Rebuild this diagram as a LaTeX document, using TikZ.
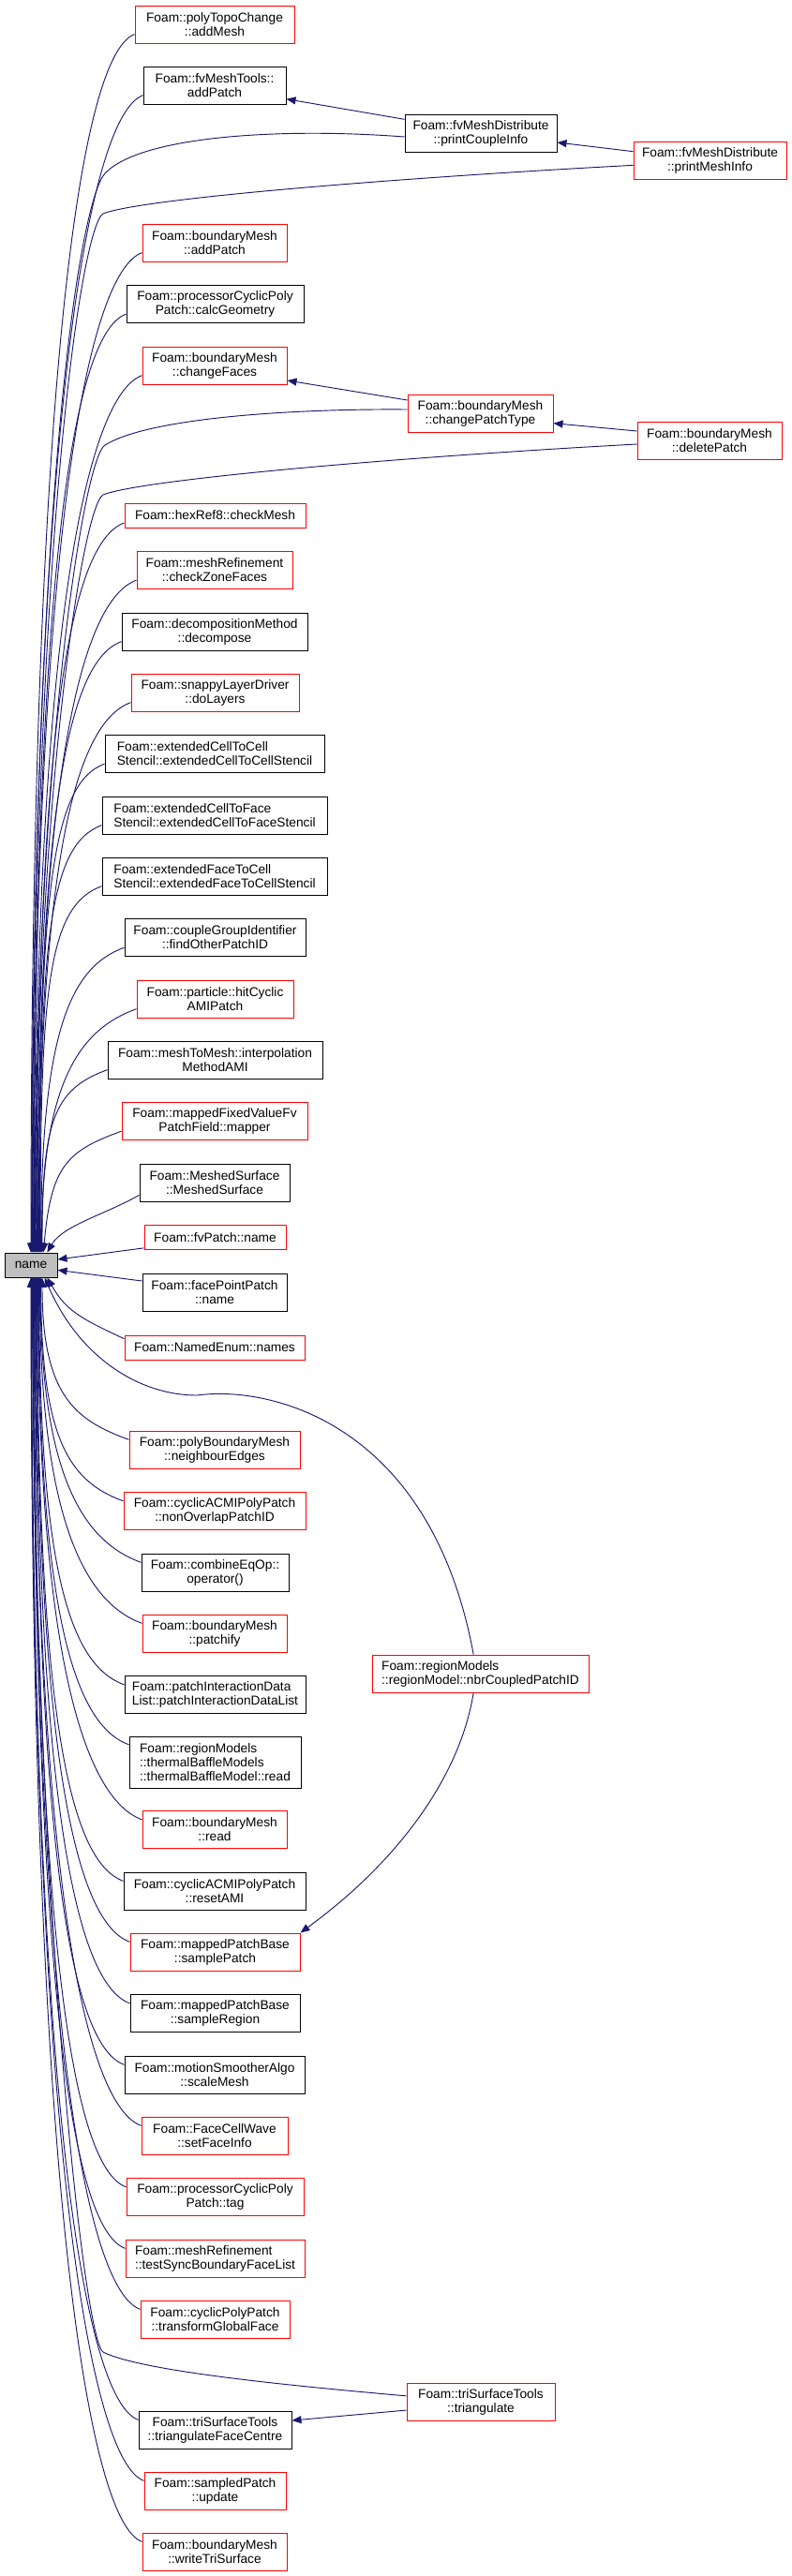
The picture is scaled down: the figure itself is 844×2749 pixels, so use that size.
\documentclass[tikz,border=0pt]{standalone}
\usepackage{fontspec}
\setmainfont{Liberation Sans}
\usetikzlibrary{arrows.meta}
\definecolor{edgeblue}{HTML}{191970}
\definecolor{namegray}{HTML}{BFBFBF}
\tikzset{
  fnbox/.style={draw=black, fill=white, line width=0.75pt, align=center, inner sep=0pt,
    minimum height=30pt, font=\fontsize{10.3}{11.25}\selectfont},
  fnred/.style={fnbox, draw=red},
  oneline/.style={minimum height=19.5pt},
  leftal/.style={align=left},
  callee/.style={fnbox, fill=namegray, oneline},
  call/.style={draw=edgeblue, line width=0.7pt, -{Triangle[length=7.5pt,width=6pt]}},
}

\begin{document}
\begin{tikzpicture}[x=0.75pt, y=0.75pt]
    \useasboundingbox (0,0) rectangle (844,-2749);

    % the called function
    \node[callee, minimum width=42pt] (name) at (33,-1350) {name};

    % callers above
    \node[fnred, minimum width=127.5pt] (pTCaddMesh) at (229,-26) {Foam::polyTopoChange\\::addMesh};
    \node[fnbox, minimum width=114pt] (fvMTaddPatch) at (229,-91) {Foam::fvMeshTools::\\addPatch};
    \node[fnbox, minimum width=121.5pt] (printCoupleInfo) at (513,-142) {Foam::fvMeshDistribute\\::printCoupleInfo};
    \node[fnred, minimum width=122.25pt] (printMeshInfo) at (757.5,-171) {Foam::fvMeshDistribute\\::printMeshInfo};
    \node[fnred, minimum width=115.5pt] (bMaddPatch) at (229,-259) {Foam::boundaryMesh\\::addPatch};
    \node[fnbox, minimum width=141.75pt] (calcGeometry) at (229.5,-324.5) {Foam::processorCyclicPoly\\Patch::calcGeometry};
    \node[fnred, minimum width=115.5pt] (changeFaces) at (229,-390) {Foam::boundaryMesh\\::changeFaces};
    \node[fnred, minimum width=116.25pt] (changePatchType) at (512.5,-441) {Foam::boundaryMesh\\::changePatchType};
    \node[fnred, minimum width=115.5pt] (deletePatch) at (757,-470) {Foam::boundaryMesh\\::deletePatch};
    \node[fnred, oneline, minimum width=144.75pt] (checkMesh) at (229.5,-550) {Foam::hexRef8::checkMesh};
    \node[fnred, minimum width=124.5pt] (checkZoneFaces) at (229,-608.5) {Foam::meshRefinement\\::checkZoneFaces};
    \node[fnbox, minimum width=148.5pt] (decompose) at (229,-674) {Foam::decompositionMethod\\::decompose};
    \node[fnred, minimum width=134.25pt] (doLayers) at (229.5,-739) {Foam::snappyLayerDriver\\::doLayers};
    \node[fnbox, leftal, minimum width=175.5pt] (cellToCell) at (229,-804.5) {Foam::extendedCellToCell\\Stencil::extendedCellToCellStencil};
    \node[fnbox, leftal, minimum width=180pt] (cellToFace) at (229,-870) {Foam::extendedCellToFace\\Stencil::extendedCellToFaceStencil};
    \node[fnbox, leftal, minimum width=180pt] (faceToCell) at (229,-935) {Foam::extendedFaceToCell\\Stencil::extendedFaceToCellStencil};
    \node[fnbox, minimum width=144.75pt] (findOtherPatchID) at (229.5,-1000.5) {Foam::coupleGroupIdentifier\\::findOtherPatchID};
    \node[fnred, minimum width=125.25pt] (hitCyclicAMIPatch) at (229.5,-1066) {Foam::particle::hitCyclic\\AMIPatch};
    \node[fnbox, minimum width=171.75pt] (interpolationAMI) at (229.5,-1131) {Foam::meshToMesh::interpolation\\MethodAMI};
    \node[fnred, minimum width=148.5pt] (mapper) at (229,-1196.5) {Foam::mappedFixedValueFv\\PatchField::mapper};
    \node[fnbox, minimum width=120pt] (meshedSurface) at (229,-1262) {Foam::MeshedSurface\\::MeshedSurface};
    \node[fnred, oneline, minimum width=113.25pt] (fvPatchName) at (229.5,-1320.5) {Foam::fvPatch::name};

    % callers below
    \node[fnbox, minimum width=115.5pt] (facePointPatchName) at (229,-1379) {Foam::facePointPatch\\::name};
    \node[fnred, oneline, minimum width=144pt] (namedEnumNames) at (229,-1438) {Foam::NamedEnum::names};
    \node[fnred, minimum width=136.5pt] (neighbourEdges) at (229,-1547) {Foam::polyBoundaryMesh\\::neighbourEdges};
    \node[fnred, minimum width=145.5pt] (nonOverlapPatchID) at (229,-1612.5) {Foam::cyclicACMIPolyPatch\\::nonOverlapPatchID};
    \node[fnbox, minimum width=117.75pt] (combineOperator) at (229.5,-1678) {Foam::combineEqOp::\\operator()};
    \node[fnred, minimum width=115.5pt] (patchify) at (229,-1743) {Foam::boundaryMesh\\::patchify};
    \node[fnred, leftal, minimum width=173.25pt] (nbrCoupledPatchID) at (512.5,-1786) {Foam::regionModels\\::regionModel::nbrCoupledPatchID};
    \node[fnbox, leftal, minimum width=144.75pt] (patchInteractionList) at (229.5,-1808.5) {Foam::patchInteractionData\\List::patchInteractionDataList};
    \node[fnbox, leftal, minimum width=137.25pt, minimum height=41.25pt] (thermalBaffleRead) at (229.5,-1880.5) {Foam::regionModels\\::thermalBaffleModels\\::thermalBaffleModel::read};
    \node[fnred, minimum width=115.5pt] (bMread) at (229,-1952.5) {Foam::boundaryMesh\\::read};
    \node[fnbox, minimum width=145.5pt] (resetAMI) at (229,-2018) {Foam::cyclicACMIPolyPatch\\::resetAMI};
    \node[fnred, minimum width=135.75pt] (samplePatch) at (229.5,-2083) {Foam::mappedPatchBase\\::samplePatch};
    \node[fnbox, minimum width=135.75pt] (sampleRegion) at (229.5,-2148.5) {Foam::mappedPatchBase\\::sampleRegion};
    \node[fnbox, minimum width=144pt] (scaleMesh) at (229,-2214) {Foam::motionSmootherAlgo\\::scaleMesh};
    \node[fnred, minimum width=117pt] (setFaceInfo) at (229,-2279) {Foam::FaceCellWave\\::setFaceInfo};
    \node[fnred, minimum width=141.75pt] (cyclicTag) at (229.5,-2344.5) {Foam::processorCyclicPoly\\Patch::tag};
    \node[fnred, leftal, minimum width=143.25pt] (testSync) at (229.5,-2410) {Foam::meshRefinement\\::testSyncBoundaryFaceList};
    \node[fnred, minimum width=119.25pt] (transformGlobalFace) at (229.5,-2475) {Foam::cyclicPolyPatch\\::transformGlobalFace};
    \node[fnred, minimum width=118.5pt] (triangulate) at (513,-2563.5) {Foam::triSurfaceTools\\::triangulate};
    \node[fnbox, minimum width=122.25pt] (triangulateFaceCentre) at (229.5,-2593) {Foam::triSurfaceTools\\::triangulateFaceCentre};
    \node[fnred, minimum width=113.25pt] (sampledUpdate) at (229.5,-2658) {Foam::sampledPatch\\::update};
    \node[fnred, minimum width=115.5pt] (writeTriSurface) at (229,-2723) {Foam::boundaryMesh\\::writeTriSurface};

    % calls from above
    \draw[call] ([yshift=-8pt]pTCaddMesh.west) to[out=200, in=90, out distance=46pt, in distance=702pt] (name.north);
    \draw[call] ([yshift=-8pt]fvMTaddPatch.west) to[out=200, in=90, out distance=46pt, in distance=667pt] ([xshift=0.5pt]name.north);
    \draw[call] ([yshift=-3pt]printCoupleInfo.west) .. controls (300,-136) and (150,-145) .. (112,-185)
        .. controls (85,-215) and (34,-520) .. ([xshift=1pt]name.north);
    \draw[call] ([yshift=-4pt]printMeshInfo.west) .. controls (420,-190) and (150,-212) .. (110,-228)
        .. controls (88,-240) and (35,-560) .. ([xshift=1.5pt]name.north);
    \draw[call] ([yshift=-8pt]bMaddPatch.west) to[out=200, in=90, out distance=46pt, in distance=576pt] ([xshift=2pt]name.north);
    \draw[call] ([yshift=-8pt]calcGeometry.west) to[out=200, in=90, out distance=46pt, in distance=541pt] ([xshift=2.5pt]name.north);
    \draw[call] ([yshift=-8pt]changeFaces.west) to[out=200, in=90, out distance=46pt, in distance=506pt] ([xshift=3pt]name.north);
    \draw[call] ([yshift=3pt]changePatchType.west) .. controls (320,-436) and (160,-445) .. (112,-475)
        .. controls (88,-490) and (36,-830) .. ([xshift=3.5pt]name.north);
    \draw[call] ([yshift=-3pt]deletePatch.west) .. controls (420,-488) and (150,-512) .. (110,-528)
        .. controls (88,-540) and (37,-860) .. ([xshift=4pt]name.north);
    \draw[call] ([yshift=-6pt]checkMesh.west) to[out=200, in=90, out distance=46pt, in distance=421pt] ([xshift=4.5pt]name.north);
    \draw[call] ([yshift=-8pt]checkZoneFaces.west) to[out=200, in=90, out distance=46pt, in distance=388pt] ([xshift=5pt]name.north);
    \draw[call] ([yshift=-8pt]decompose.west) to[out=200, in=90, out distance=46pt, in distance=352pt] ([xshift=5.5pt]name.north);
    \draw[call] ([yshift=-8pt]doLayers.west) to[out=200, in=90, out distance=46pt, in distance=317pt] ([xshift=6pt]name.north);
    \draw[call] ([yshift=-8pt]cellToCell.west) to[out=200, in=90, out distance=46pt, in distance=282pt] ([xshift=6.5pt]name.north);
    \draw[call] ([yshift=-8pt]cellToFace.west) to[out=200, in=90, out distance=46pt, in distance=246pt] ([xshift=7pt]name.north);
    \draw[call] ([yshift=-8pt]faceToCell.west) to[out=200, in=90, out distance=46pt, in distance=211pt] ([xshift=7.5pt]name.north);
    \draw[call] ([yshift=-8pt]findOtherPatchID.west) to[out=200, in=90, out distance=46pt, in distance=176pt] ([xshift=8pt]name.north);
    \draw[call] ([yshift=-8pt]hitCyclicAMIPatch.west) to[out=200, in=90, out distance=46pt, in distance=140pt] ([xshift=8.5pt]name.north);
    \draw[call] ([yshift=-8pt]interpolationAMI.west) to[out=200, in=90, out distance=46pt, in distance=105pt] ([xshift=9pt]name.north);
    \draw[call] ([yshift=-8pt]mapper.west) to[out=200, in=85, out distance=46pt, in distance=70pt] ([xshift=10pt]name.north);
    \draw[call] ([yshift=-10pt]meshedSurface.west) to[out=210, in=60, out distance=30pt, in distance=25pt] ([xshift=13pt]name.north);
    \draw[call] ([yshift=-8.5pt]fvPatchName.west) -- ([yshift=4.5pt]name.east);

    % calls from below
    \draw[call] ([yshift=9pt]facePointPatchName.west) -- ([yshift=-4pt]name.east);
    \draw[call] ([yshift=7pt]namedEnumNames.west) to[out=155, in=300, out distance=40pt, in distance=30pt] ([xshift=13pt]name.south);
    \draw[call] ([xshift=-5.5pt]nbrCoupledPatchID.north) .. controls (460,-1520) and (290,-1478) .. (210,-1489)
        .. controls (150,-1489) and (85,-1450) .. ([xshift=11pt]name.south);
    \draw[call] ([yshift=8pt]neighbourEdges.west) to[out=160, in=270, out distance=46pt, in distance=94pt] ([xshift=9pt]name.south);
    \draw[call] ([yshift=8pt]nonOverlapPatchID.west) to[out=160, in=270, out distance=46pt, in distance=129pt] ([xshift=8pt]name.south);
    \draw[call] ([yshift=8pt]combineOperator.west) to[out=160, in=270, out distance=46pt, in distance=164pt] ([xshift=7.5pt]name.south);
    \draw[call] ([yshift=8pt]patchify.west) to[out=160, in=270, out distance=46pt, in distance=199pt] ([xshift=7pt]name.south);
    \draw[call] ([yshift=8pt]patchInteractionList.west) to[out=160, in=270, out distance=46pt, in distance=235pt] ([xshift=6.5pt]name.south);
    \draw[call] ([yshift=14pt]thermalBaffleRead.west) to[out=160, in=270, out distance=46pt, in distance=269pt] ([xshift=6pt]name.south);
    \draw[call] ([yshift=8pt]bMread.west) to[out=160, in=270, out distance=46pt, in distance=313pt] ([xshift=5.5pt]name.south);
    \draw[call] ([yshift=8pt]resetAMI.west) to[out=160, in=270, out distance=46pt, in distance=348pt] ([xshift=5pt]name.south);
    \draw[call] ([yshift=8pt]samplePatch.west) to[out=160, in=270, out distance=46pt, in distance=383pt] ([xshift=4.5pt]name.south);
    \draw[call] ([yshift=8pt]sampleRegion.west) to[out=160, in=270, out distance=46pt, in distance=418pt] ([xshift=4pt]name.south);
    \draw[call] ([yshift=8pt]scaleMesh.west) to[out=160, in=270, out distance=46pt, in distance=454pt] ([xshift=3.5pt]name.south);
    \draw[call] ([yshift=8pt]setFaceInfo.west) to[out=160, in=270, out distance=46pt, in distance=489pt] ([xshift=3pt]name.south);
    \draw[call] ([yshift=8pt]cyclicTag.west) to[out=160, in=270, out distance=46pt, in distance=524pt] ([xshift=2.5pt]name.south);
    \draw[call] ([yshift=8pt]testSync.west) to[out=160, in=270, out distance=46pt, in distance=560pt] ([xshift=2pt]name.south);
    \draw[call] ([yshift=8pt]transformGlobalFace.west) to[out=160, in=270, out distance=46pt, in distance=595pt] ([xshift=1.5pt]name.south);
    \draw[call] ([yshift=5pt]triangulate.west) .. controls (300,-2545) and (150,-2530) .. (110,-2510)
        .. controls (88,-2495) and (36,-2000) .. ([xshift=1pt]name.south);
    \draw[call] ([yshift=8pt]triangulateFaceCentre.west) to[out=160, in=270, out distance=46pt, in distance=658pt] ([xshift=0.5pt]name.south);
    \draw[call] ([yshift=8pt]sampledUpdate.west) to[out=160, in=270, out distance=46pt, in distance=693pt] ([xshift=0.25pt]name.south);
    \draw[call] ([yshift=8pt]writeTriSurface.west) to[out=160, in=270, out distance=46pt, in distance=728pt] (name.south);

    % calls between callers
    \draw[call] ([yshift=11pt]printCoupleInfo.west) -- ([yshift=-11pt]fvMTaddPatch.east);
    \draw[call] ([yshift=7pt]printMeshInfo.west) -- ([yshift=-7.5pt]printCoupleInfo.east);
    \draw[call] ([yshift=10.5pt]changePatchType.west) -- ([yshift=-12pt]changeFaces.east);
    \draw[call] ([yshift=7.5pt]deletePatch.west) -- ([yshift=-8pt]changePatchType.east);
    \draw[call] ([xshift=-5.5pt]nbrCoupledPatchID.south) .. controls (490,-1900) and (420,-1990) .. (samplePatch.north east);
    \draw[call] ([yshift=-6.4pt]triangulate.west) -- ([yshift=7.5pt]triangulateFaceCentre.east);
\end{tikzpicture}
\end{document}
